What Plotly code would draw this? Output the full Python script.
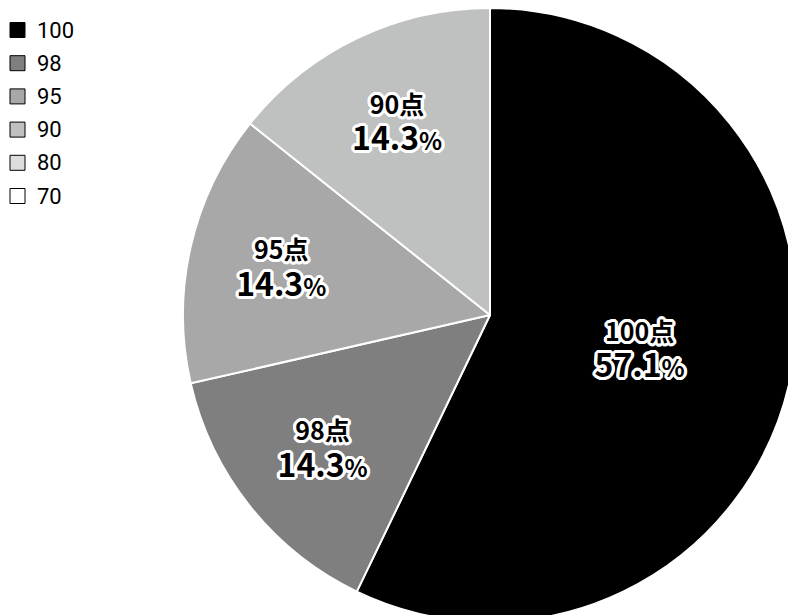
import plotly.graph_objects as go

# Score distribution (number of students per score)
scores = ["100", "98", "95", "90", "80", "70"]
counts = [4, 1, 1, 1, 0, 0]
colors = ["#000000", "#7f7f7f", "#a8a8a8", "#bfc0c0", "#dcdddd", "#ffffff"]

total = sum(counts)
pct_text = [f"{c / total * 100:.1f}" for c in counts]

W, H = 980, 630
M_TOP, M_BOT = 8, 8


def px_x(x):
    return x / W


def px_y(y):
    return 1 - (y - M_TOP) / (H - M_TOP - M_BOT)


# white halo around the slice labels
offsets = [(dx, dy) for dx in (-3, -2, -1, 0, 1, 2, 3) for dy in (-3, -2, -1, 0, 1, 2, 3)
           if 0 < dx * dx + dy * dy <= 10]
halo = ", ".join(f"{dx}px {dy}px 0 #ffffff" for dx, dy in offsets)

fig = go.Figure(
    go.Pie(
        labels=scores,
        values=counts,
        customdata=pct_text,
        sort=False,
        direction="clockwise",
        rotation=0,
        marker=dict(colors=colors, line=dict(color="#ffffff", width=2)),
        texttemplate="<span style='font-size:25px'>%{label}点</span><br>"
                     "<span style='font-size:32px'>%{customdata}</span>"
                     "<span style='font-size:24px'>%</span>",
        textposition="inside",
        insidetextorientation="horizontal",
        textfont=dict(family="Noto Sans CJK JP", size=28, color="#000000",
                      weight="bold", shadow=halo),
        hoverinfo="label+percent",
        showlegend=False,
    )
)

# legend: outlined swatches with score labels
shapes = []
annotations = []
for i, (s, c) in enumerate(zip(scores, colors)):
    yc = 30 + i * 33.2
    shapes.append(dict(
        type="rect", xref="paper", yref="paper",
        x0=px_x(10), x1=px_x(25), y0=px_y(yc + 7.5), y1=px_y(yc - 7.5),
        fillcolor=c, line=dict(color="#000000", width=1),
    ))
    annotations.append(dict(
        xref="paper", yref="paper", x=px_x(35), y=px_y(yc),
        xanchor="left", yanchor="middle", showarrow=False, text=s,
        font=dict(family="Roboto", size=22, color="#000000"),
    ))

fig.update_layout(
    width=W,
    height=H,
    margin=dict(l=0, r=0, t=M_TOP, b=M_BOT),
    paper_bgcolor="#ffffff",
    plot_bgcolor="#ffffff",
    shapes=shapes,
    annotations=annotations,
)

fig.write_html(
    "out.html",
    post_script="document.documentElement.style.overflow='hidden';"
                "document.body.style.overflow='hidden';document.body.style.margin='0';",
)
